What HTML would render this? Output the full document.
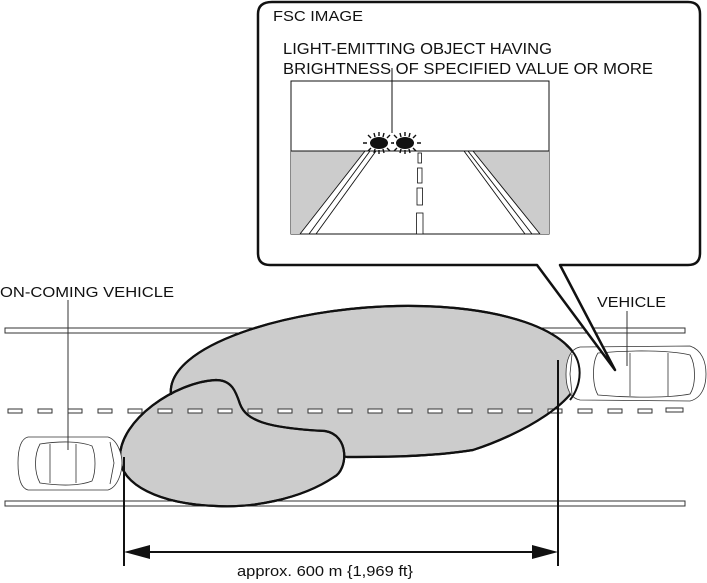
<!DOCTYPE html>
<html><head><meta charset="utf-8"><style>
html,body{margin:0;padding:0;background:#fff}
svg{display:block}
text{font-family:"Liberation Sans",sans-serif;fill:#111}
</style></head><body>
<svg width="707" height="583" viewBox="0 0 707 583" xmlns="http://www.w3.org/2000/svg">
<!-- road -->
<g stroke="#333" stroke-width="1" fill="#fff">
<rect x="5" y="328" width="680" height="5"/>
<rect x="5" y="501" width="680" height="5"/>
</g>
<!-- big blob -->
<path d="M171,395 C165,345 290,308 397,306 C500,304 575,330 580,369 C584,400 520,435 473,450 C430,457 380,457 347,457 L200,430 C180,420 172,410 171,395 Z" fill="#ccc" stroke="#111" stroke-width="2.2"/>
<!-- small lobe on top -->
<path d="M120,457 C120,420 175,382 216,380 C232,380 236,392 240,404 C246,420 265,428 325,431 C350,435 348,470 334,477 C300,500 250,508 216,506 C160,504 120,485 120,457 Z" fill="#ccc" stroke="#111" stroke-width="2.2"/>
<!-- dashes on top -->
<g fill="#fff" stroke="#333" stroke-width="1">
<rect x="8" y="409" width="14" height="4"/><rect x="38" y="409" width="14" height="4"/><rect x="68" y="409" width="14" height="4"/><rect x="98" y="409" width="14" height="4"/><rect x="128" y="409" width="14" height="4"/><rect x="158" y="409" width="14" height="4"/><rect x="188" y="409" width="14" height="4"/><rect x="218" y="409" width="14" height="4"/><rect x="248" y="409" width="14" height="4"/><rect x="278" y="409" width="14" height="4"/><rect x="308" y="409" width="14" height="4"/><rect x="338" y="409" width="14" height="4"/><rect x="368" y="409" width="14" height="4"/><rect x="398" y="409" width="14" height="4"/><rect x="428" y="409" width="14" height="4"/><rect x="458" y="409" width="14" height="4"/><rect x="488" y="409" width="14" height="4"/><rect x="518" y="409" width="14" height="4"/><rect x="548" y="409" width="14" height="4"/><rect x="578" y="409" width="14" height="4"/><rect x="608" y="409" width="14" height="4"/><rect x="638" y="409" width="14" height="4"/><rect x="666" y="408" width="17" height="4"/>
</g>
<!-- redraw blob outline over dashes -->
<g fill="none" stroke="#111" stroke-width="2.2">
<path d="M171,395 C165,345 290,308 397,306 C500,304 575,330 580,369 C584,400 520,435 473,450 C430,457 380,457 347,457"/>
<path d="M120,457 C120,420 175,382 216,380 C232,380 236,392 240,404 C246,420 265,428 325,431 C350,435 348,470 334,477 C300,500 250,508 216,506 C160,504 120,485 120,457 Z"/>
</g>
<!-- left car -->
<g stroke="#333" stroke-width="0.8" fill="#fff">
<path d="M28,437 L108,437 C118,440 122,455 122,463 C122,472 118,487 108,490 L28,490 C20,488 18,475 18,463 C18,450 20,439 28,437 Z"/>
<path d="M40,444 C60,441 80,441 92,446 C96,455 96,472 92,481 C80,486 60,486 40,483 C34,472 34,455 40,444 Z"/>
<line x1="50" y1="444" x2="50" y2="483"/><line x1="76" y1="444" x2="76" y2="483"/>
<path d="M110,442 L114,463 L110,484" fill="none"/>
</g>
<!-- right car -->
<g stroke="#333" stroke-width="0.8" fill="#fff">
<path d="M580,347 L690,346 C702,350 706,362 706,374 C706,386 702,398 690,401 L580,400 C570,398 566,388 566,374 C566,360 570,349 580,347 Z"/>
<path d="M598,353 C630,350 670,350 690,355 C696,365 696,385 690,394 C670,398 630,398 598,395 C592,385 592,362 598,353 Z"/>
<line x1="630" y1="353" x2="630" y2="396"/><line x1="668" y1="353" x2="668" y2="396"/>
<path d="M572,354 L570,374 L572,394" fill="none"/>
</g>
<path d="M566,345 C585,360 582,385 570,400" fill="none" stroke="#111" stroke-width="2"/>
<!-- leaders -->
<g stroke="#333" stroke-width="1">
<line x1="68" y1="300" x2="68" y2="450"/>
<line x1="627" y1="311" x2="627" y2="366"/>
</g>
<!-- dimension -->
<g stroke="#111" stroke-width="2">
<line x1="124" y1="457" x2="124" y2="566"/>
<line x1="558" y1="360" x2="558" y2="566"/>
<line x1="140" y1="552" x2="542" y2="552"/>
</g>
<polygon points="124,552 150,545 150,559" fill="#111"/>
<polygon points="558,552 532,545 532,559" fill="#111"/>
<text x="237" y="576" font-size="15" textLength="176" lengthAdjust="spacingAndGlyphs">approx. 600 m {1,969 ft}</text>
<text x="0" y="297" font-size="15" textLength="174" lengthAdjust="spacingAndGlyphs">ON-COMING VEHICLE</text>
<text x="597" y="307" font-size="15" textLength="69" lengthAdjust="spacingAndGlyphs">VEHICLE</text>
<!-- callout -->
<path d="M272,2 L688,2 Q700,2 700,14 L700,253 Q700,265 688,265 L560,265 L615,370 L537,265 L270,265 Q258,265 258,253 L258,14 Q258,2 272,2 Z" fill="#fff" stroke="#111" stroke-width="2.5" stroke-linejoin="round"/>
<text x="273" y="21" font-size="15" textLength="90" lengthAdjust="spacingAndGlyphs">FSC IMAGE</text>
<text x="283" y="54" font-size="16" textLength="269" lengthAdjust="spacingAndGlyphs">LIGHT-EMITTING OBJECT HAVING</text>
<text x="283" y="74" font-size="16" textLength="370" lengthAdjust="spacingAndGlyphs">BRIGHTNESS OF SPECIFIED VALUE OR MORE</text>
<!-- inner image -->
<rect x="291" y="81" width="258" height="153" fill="#fff" stroke="#111" stroke-width="1"/>
<polygon points="291,151 365,151 300,234 291,234" fill="#ccc"/>
<polygon points="473,151 549,151 549,234 540,234" fill="#ccc"/>
<line x1="291" y1="151" x2="549" y2="151" stroke="#111" stroke-width="1"/>
<g stroke="#111" stroke-width="0.9">
<line x1="365" y1="151" x2="300" y2="234"/><line x1="370" y1="151" x2="309" y2="234"/><line x1="376" y1="151" x2="316" y2="234"/>
<line x1="464" y1="151" x2="525" y2="234"/><line x1="468" y1="151" x2="532" y2="234"/><line x1="473" y1="151" x2="540" y2="234"/>
</g>
<g fill="#fff" stroke="#111" stroke-width="0.8">
<rect x="418" y="153" width="3.5" height="10"/><rect x="417.5" y="168" width="4.5" height="15"/><rect x="417" y="188" width="5.5" height="17"/><rect x="416.5" y="213" width="6.5" height="21"/>
</g>
<line x1="392" y1="68" x2="392" y2="133" stroke="#111" stroke-width="1"/>
<g fill="#111">
<ellipse cx="379" cy="143" rx="9" ry="6"/><ellipse cx="405" cy="143" rx="9" ry="6"/>
</g>
<g stroke="#111" stroke-width="1.4">
<path d="M367,143h-4M391,143h3M379,136v-4M379,150v4M371,138l-3,-3M387,138l3,-3M371,148l-3,3M387,148l3,3M375,137l-1,-4M383,137l1,-4M375,149l-1,4M383,149l1,4"/>
<path d="M394,143h-1M417,143h4M405,136v-4M405,150v4M397,138l-3,-3M413,138l3,-3M397,148l-3,3M413,148l3,3M401,137l-1,-4M409,137l1,-4M401,149l-1,4M409,149l1,4"/>
</g>
</svg>
</body></html>
